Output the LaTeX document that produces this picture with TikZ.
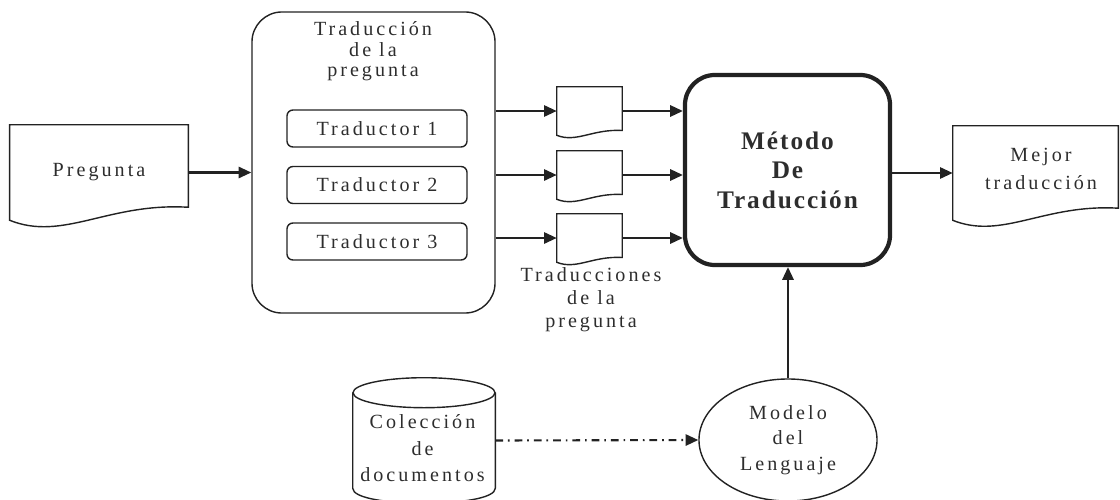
\documentclass[tikz,border=0pt]{standalone}
\usepackage{fontspec}
\setmainfont[LetterSpace=15, BoldFeatures={LetterSpace=7.7}]{Liberation Serif}
\usetikzlibrary{arrows.meta,shapes.geometric,calc}
\newcommand{\upx}{0.7113pt}
\definecolor{ink}{RGB}{34,34,34}
\definecolor{txtgray}{RGB}{45,45,45}
\tikzset{
	box/.style={draw=ink, line width=1pt, rounded corners=6*\upx, minimum width=180*\upx, minimum height=37*\upx},
	bigbox/.style={draw=ink, line width=1pt, rounded corners=30*\upx, inner sep=0pt},
	method/.style={draw=ink, line width=3pt, rounded corners=30*\upx},
	doc/.style={inner sep=0pt},
	txt/.style={align=center, text=txtgray, inner sep=0pt, font=\fontsize{14.3}{16.7}\selectfont},
	arr/.style={draw=ink, line width=1.5pt, -{Triangle[length=9pt,width=8pt]}},
	dashdot/.style={arr, dash pattern=on 5.5pt off 3.5pt on 1.2pt off 3.5pt},
}
% document outline with a wavy bottom
\newcommand{\docoutline}[1]{%
	\draw[draw=ink, line width=1pt] let \p1=(#1.south west), \p2=(#1.north east), \n1={\x2-\x1} in
	(\p1) .. controls ({\x1+0.3*\n1},{\y1-0.12*\n1}) and ({\x1+0.55*\n1},{\y1+0.1*\n1}) .. ({\x2},{\y1+0.073*\n1})
	-- (\p2) -- (\x1,\y2) -- cycle;}
\begin{document}
\begin{tikzpicture}[x=0.025cm, y=-0.025cm]
	\useasboundingbox (0,0) rectangle (1120,500);
	\clip (0,0) rectangle (1120,500);

	\node[doc, txt, minimum width=178*\upx, minimum height=95*\upx] (preg) at (99,172.5) {Pregunta};
	\docoutline{preg}

	\node[bigbox, minimum width=243*\upx, minimum height=301*\upx] (trad) at (373.5,162.5) {};
	\node[txt, font=\fontsize{14.3}{14.9}\selectfont] (tradtit) at (373,51.2) {Traducción\\de la\\pregunta};
	\foreach \i/\y in {1/128.5, 2/185, 3/241.5}
		\node[box, txt] (tr\i) at (377,\y) {Traductor \i};

	% translated questions
	\foreach \i/\y in {1/111, 2/175, 3/238} {
		\node[doc, minimum width=65*\upx, minimum height=48*\upx] (d\i) at (589.5,\y) {};
		\docoutline{d\i}
	}
	\node[txt] (trslbl) at (591,299.7) {Traducciones\\de la\\pregunta};

	\node[method, txt, font=\bfseries\fontsize{18}{21}\selectfont, minimum width=205*\upx, minimum height=190*\upx] (meth) at (787.5,170) {Método\\De\\Traducción};

	\node[doc, minimum width=165*\upx, minimum height=94*\upx] (mej) at (1035.5,173) {};
	\docoutline{mej}
	\node[txt, font=\fontsize{14.3}{19.9}\selectfont] (mejtxt) at (1041,169) {Mejor\\traducción};

	\node[draw=ink, line width=1pt, ellipse, txt, font=\fontsize{14.3}{18.1}\selectfont, minimum width=178*\upx, minimum height=122*\upx] (lm) at (788,440) {Modelo\\del\\Lenguaje};

	% collection of documents
	\node[doc, minimum width=142*\upx, minimum height=95*\upx] (col) at (424,440.5) {};
	\draw[draw=ink, line width=1pt] (col.north west) -- (col.south west)
		.. controls ($(col.south west)+(0,20)$) and ($(col.south east)+(0,20)$) .. (col.south east) -- (col.north east);
	\draw[draw=ink, line width=1pt] (col.north) ellipse [x radius=71, y radius=15];
	\node[txt, font=\fontsize{14.3}{18.8}\selectfont] (coltxt) at (422.5,448.5) {Colección\\de\\documentos};

	\draw[arr] (preg.east) -- (trad.west |- preg.east);
	\foreach \i in {1,2,3} {
		\draw[arr] (trad.east |- d\i.west) -- (d\i.west);
		\draw[arr] (d\i.east) -- (meth.west |- d\i.east);
	}
	\draw[arr] (meth.east |- mej.west) -- (mej.west);
	\draw[arr] (lm.north) -- (lm.north |- meth.south);
	\draw[dashdot] (col.east) -- (lm.west);
\end{tikzpicture}
\end{document}
